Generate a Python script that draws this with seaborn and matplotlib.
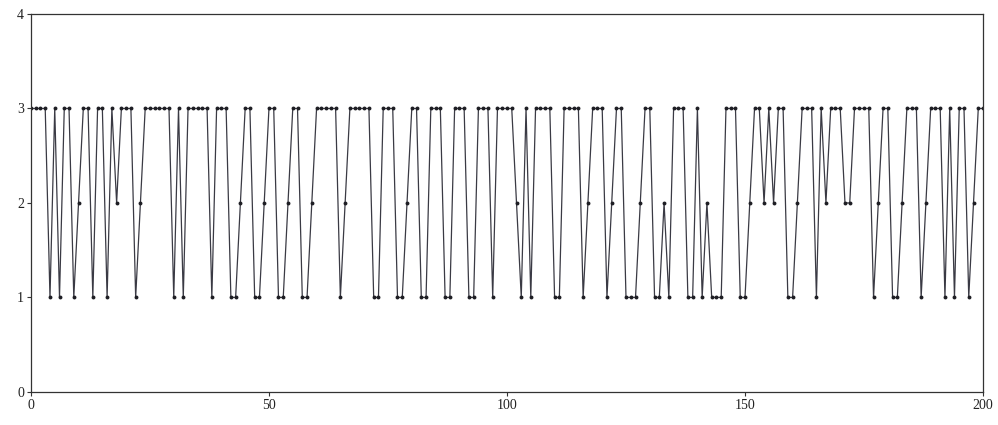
import pandas as pd
import matplotlib
matplotlib.use("Agg")
import matplotlib.pyplot as plt
import seaborn as sns

# State value at each step 0..200
state = [
    3, 3, 3, 3, 1, 3, 1, 3, 3, 1,   # 0-9
    2, 3, 3, 1, 3, 3, 1, 3, 2, 3,   # 10-19
    3, 3, 1, 2, 3, 3, 3, 3, 3, 3,   # 20-29
    1, 3, 1, 3, 3, 3, 3, 3, 1, 3,   # 30-39
    3, 3, 1, 1, 2, 3, 3, 1, 1, 2,   # 40-49
    3, 3, 1, 1, 2, 3, 3, 1, 1, 2,   # 50-59
    3, 3, 3, 3, 3, 1, 2, 3, 3, 3,   # 60-69
    3, 3, 1, 1, 3, 3, 3, 1, 1, 2,   # 70-79
    3, 3, 1, 1, 3, 3, 3, 1, 1, 3,   # 80-89
    3, 3, 1, 1, 3, 3, 3, 1, 3, 3,   # 90-99
    3, 3, 2, 1, 3, 1, 3, 3, 3, 3,   # 100-109
    1, 1, 3, 3, 3, 3, 1, 2, 3, 3,   # 110-119
    3, 1, 2, 3, 3, 1, 1, 1, 2, 3,   # 120-129
    3, 1, 1, 2, 1, 3, 3, 3, 1, 1,   # 130-139
    3, 1, 2, 1, 1, 1, 3, 3, 3, 1,   # 140-149
    1, 2, 3, 3, 2, 3, 2, 3, 3, 1,   # 150-159
    1, 2, 3, 3, 3, 1, 3, 2, 3, 3,   # 160-169
    3, 2, 2, 3, 3, 3, 3, 1, 2, 3,   # 170-179
    3, 1, 1, 2, 3, 3, 3, 1, 2, 3,   # 180-189
    3, 3, 1, 3, 1, 3, 3, 1, 2, 3,   # 190-199
    3,                              # 200
]
step = list(range(len(state)))

x_ticks = [0, 50, 100, 150, 200]
y_ticks = [0, 1, 2, 3, 4]

df = pd.DataFrame({"step": step, "state": state})

sns.set_theme(style="white")
plt.rcParams["font.family"] = ["Liberation Serif", "DejaVu Serif"]

fig = plt.figure(figsize=(9.98, 4.25), dpi=100)
ax = fig.add_axes([0.031, 0.078, 0.954, 0.889])

sns.lineplot(data=df, x="step", y="state", ax=ax, color="#3a3a44",
             linewidth=0.9, marker="o", markersize=2.8,
             markeredgewidth=0, markerfacecolor="#1e1e24")

ax.set_xlim(0, 200)
ax.set_ylim(0, 4)
ax.set_xticks(x_ticks)
ax.set_yticks(y_ticks)
ax.set_xlabel("")
ax.set_ylabel("")
ax.tick_params(axis="both", which="major", direction="out", length=3,
               width=0.8, color="#333333", labelsize=10, labelcolor="#222222",
               bottom=True, left=True, pad=2)
for s in ax.spines.values():
    s.set_color("#333333")
    s.set_linewidth(0.9)

fig.savefig("out.png", dpi=100, facecolor="white")
